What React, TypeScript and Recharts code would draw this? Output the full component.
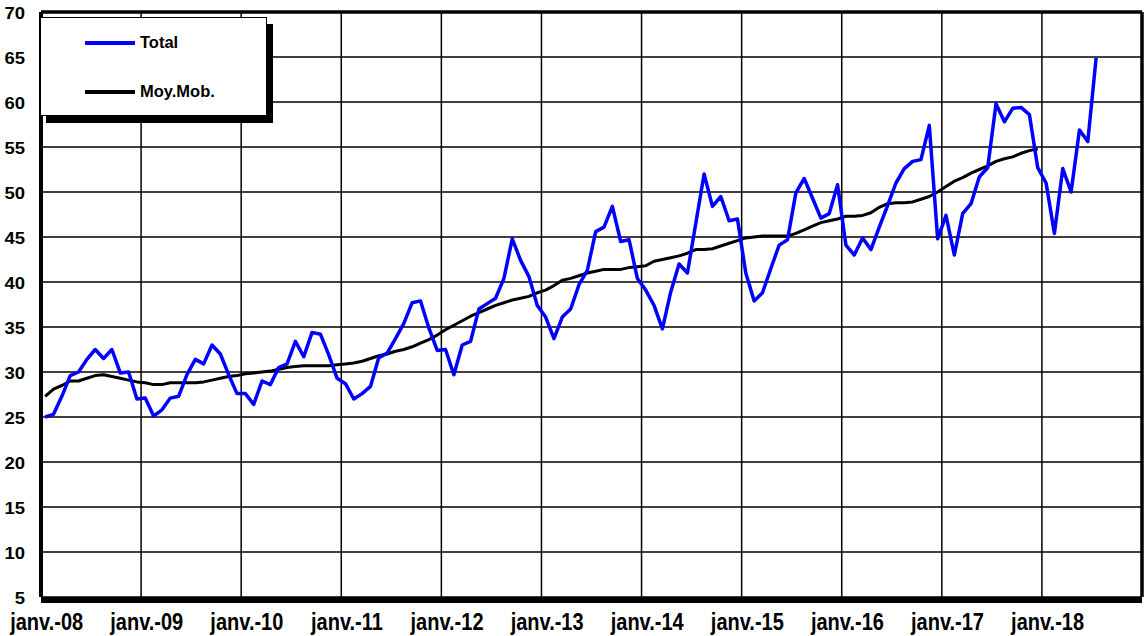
import React from 'react';
import { LineChart, Line, XAxis, YAxis, CartesianGrid, ReferenceLine, Legend } from 'recharts';

const yearLabels = ['janv.-08', 'janv.-09', 'janv.-10', 'janv.-11', 'janv.-12', 'janv.-13', 'janv.-14', 'janv.-15', 'janv.-16', 'janv.-17', 'janv.-18'];
const yTicks = [5, 10, 15, 20, 25, 30, 35, 40, 45, 50, 55, 60, 65, 70];

const total = [
  25.0, 25.3, 27.3, 29.6, 30.0, 31.4, 32.5, 31.5, 32.5, 29.9, 30.0, 27.0,
  27.1, 25.1, 25.8, 27.1, 27.3, 29.7, 31.4, 30.9, 33.0, 32.0, 29.7, 27.6,
  27.6, 26.4, 29.0, 28.6, 30.5, 30.9, 33.4, 31.7, 34.4, 34.2, 31.9, 29.3,
  28.7, 27.0, 27.6, 28.4, 31.6, 32.1, 33.7, 35.4, 37.7, 37.9, 34.9, 32.4,
  32.5, 29.7, 33.0, 33.4, 37.0, 37.6, 38.2, 40.4, 44.8, 42.4, 40.6, 37.4,
  36.1, 33.7, 36.1, 37.0, 39.7, 41.3, 45.6, 46.1, 48.4, 44.5, 44.7, 40.4,
  39.1, 37.4, 34.8, 38.9, 42.0, 41.0, 46.5, 52.0, 48.4, 49.5, 46.8, 47.0,
  41.0, 37.9, 38.8, 41.5, 44.1, 44.7, 49.9, 51.5, 49.3, 47.1, 47.6, 50.8,
  44.1, 43.0, 44.9, 43.6, 46.1, 48.5, 51.0, 52.6, 53.4, 53.6, 57.4, 44.8,
  47.4, 43.0, 47.6, 48.7, 51.7, 52.7, 59.8, 57.8, 59.3, 59.4, 58.6, 52.7,
  51.0, 45.4, 52.6, 50.0, 56.9, 55.6, 64.9,
];

const moyMob = [
  27.3, 28.1, 28.5, 29.0, 29.0, 29.3, 29.6, 29.7, 29.5, 29.3, 29.1, 28.9,
  28.8, 28.6, 28.6, 28.8, 28.8, 28.8, 28.8, 28.9, 29.1, 29.3, 29.5, 29.6,
  29.8, 29.9, 30.0, 30.1, 30.3, 30.5, 30.6, 30.7, 30.7, 30.7, 30.7, 30.8,
  30.9, 31.0, 31.2, 31.5, 31.8, 32.0, 32.3, 32.5, 32.8, 33.2, 33.6, 34.1,
  34.7, 35.2, 35.7, 36.2, 36.6, 37.0, 37.4, 37.7, 38.0, 38.2, 38.4, 38.8,
  39.1, 39.6, 40.2, 40.4, 40.7, 41.0, 41.2, 41.4, 41.4, 41.4, 41.6, 41.7,
  41.8, 42.3, 42.5, 42.7, 42.9, 43.2, 43.6, 43.6, 43.7, 44.0, 44.3, 44.6,
  44.9, 45.0, 45.1, 45.1, 45.1, 45.1, 45.4, 45.8, 46.2, 46.6, 46.8, 47.0,
  47.3, 47.3, 47.4, 47.7, 48.3, 48.7, 48.8, 48.8, 48.9, 49.2, 49.5, 50.0,
  50.6, 51.2, 51.6, 52.1, 52.5, 52.9, 53.4, 53.7, 53.9, 54.3, 54.6, 54.8,
];

const MONTHS = 132;
const data = total.map((v, i) => ({
  x: i + 0.5,
  total: v,
  moyMob: i < moyMob.length ? moyMob[i] : null,
}));

const xTicks = yearLabels.map((_, k) => k * 12 + 0.5);
const yearLines = yearLabels.slice(1).map((_, k) => (k + 1) * 12);

const FONT = '"Liberation Sans", Arial, sans-serif';

const XTick = (props: any) => {
  const { x, payload } = props;
  const label = yearLabels[Math.floor(payload.value / 12)];
  return (
    <g transform={`translate(${x + 1.5},630) scale(1,1.2)`}>
      <text x={0} y={0} textAnchor="middle" fontSize={20} fontWeight={700} fontFamily={FONT} fill="#000">
        {label}
      </text>
    </g>
  );
};

const YTick = (props: any) => {
  const { y, payload } = props;
  return (
    <g transform={`translate(25,${y + 6.5}) scale(1.12,1)`}>
      <text x={0} y={0} textAnchor="end" fontSize={16.5} fontWeight={700} fontFamily={FONT} fill="#000">
        {payload.value}
      </text>
    </g>
  );
};

const LegendBox = () => (
  <div
    style={{
      position: 'relative',
      width: 227,
      height: 99,
      boxSizing: 'border-box',
      background: '#fff',
      border: '1.5px solid #000',
      boxShadow: '6px 7px 0 #000',
      fontFamily: FONT,
      fontWeight: 700,
      fontSize: 16.5,
      color: '#000',
    }}
  >
    <div style={{ position: 'absolute', left: 44, top: 23, width: 50, height: 3.5, background: '#0000ff' }} />
    <div style={{ position: 'absolute', left: 99, top: 14, lineHeight: '20px' }}>Total</div>
    <div style={{ position: 'absolute', left: 44, top: 72, width: 50, height: 3.5, background: '#000' }} />
    <div style={{ position: 'absolute', left: 99, top: 63, lineHeight: '20px' }}>Moy.Mob.</div>
  </div>
);

export default function App() {
  return (
    <div style={{ position: 'absolute', left: 0, top: 0, width: 1145, height: 636, background: '#fff' }}>
      <LineChart width={1145} height={636} data={data} margin={{ top: 12, right: 3, bottom: 0, left: 0 }}>
        <CartesianGrid vertical={false} stroke="#000" strokeWidth={1.5} />
        <XAxis
          dataKey="x"
          type="number"
          domain={[0, MONTHS]}
          ticks={xTicks}
          tick={<XTick />}
          tickLine={false}
          axisLine={false}
          height={39}
          interval={0}
          allowDataOverflow
        />
        <YAxis
          type="number"
          domain={[5, 70]}
          ticks={yTicks}
          tick={<YTick />}
          tickLine={false}
          axisLine={{ stroke: '#000', strokeWidth: 4 }}
          width={41}
          interval={0}
          allowDataOverflow
        />
        {yearLines.map((v) => (
          <ReferenceLine key={v} x={v} stroke="#000" strokeWidth={1.5} />
        ))}
        <ReferenceLine y={70} stroke="#000" strokeWidth={3.5} />
        <ReferenceLine x={MONTHS} stroke="#000" strokeWidth={3.5} />
        <ReferenceLine y={4.67} stroke="#000" strokeWidth={6} ifOverflow="visible" />
        <Line
          type="linear"
          dataKey="moyMob"
          name="Moy.Mob."
          stroke="#000"
          strokeWidth={3}
          dot={false}
          isAnimationActive={false}
          connectNulls={false}
          strokeLinejoin="round"
        />
        <Line
          type="linear"
          dataKey="total"
          name="Total"
          stroke="#0000ff"
          strokeWidth={3.5}
          dot={false}
          isAnimationActive={false}
          strokeLinejoin="round"
        />
        <Legend
          layout="horizontal"
          verticalAlign="middle"
          align="center"
          content={<LegendBox />}
          wrapperStyle={{ position: 'absolute', left: 40, top: 17, width: 227, height: 99 }}
        />
      </LineChart>
    </div>
  );
}
